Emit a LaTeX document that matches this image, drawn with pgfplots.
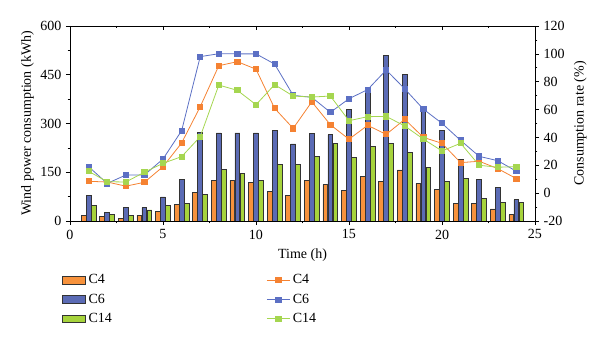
\documentclass[border=0pt]{standalone}
\usepackage{fontspec}
\setmainfont{Liberation Serif}
\usepackage{pgfplots}
\pgfplotsset{compat=1.18}
\definecolor{c4bar}{HTML}{F7923C}
\definecolor{c6bar}{HTML}{5B6BB5}
\definecolor{c14bar}{HTML}{A6D33C}
\definecolor{c4line}{HTML}{F58232}
\definecolor{c6line}{HTML}{5C70C4}
\definecolor{c14line}{HTML}{A5D650}
\begin{document}
\begin{tikzpicture}[font=\fontsize{10.5}{12.6}\selectfont]
\pgfplotsset{
  common/.style={
    scale only axis, width=348.75pt, height=146.25pt,
    xmin=0, xmax=25,
    /pgf/number format/assume math mode=true,
    major tick length=3pt, minor tick length=1.8pt,
    every tick/.style={black, line width=0.5pt},
    axis line style={line width=0.6pt},
  }
}
\begin{axis}[common, name=main,
  ymin=0, ymax=600,
  axis x line*=bottom, axis y line*=left,
  tick align=outside,
  xtick={0,5,10,15,20,25}, minor x tick num=1,
  ytick={0,150,300,450,600}, minor y tick num=1,
  xlabel={Time (h)}, ylabel={Wind power consumption (kWh)},
  ylabel style={xshift=0pt, yshift=-2pt},
  ybar, bar width=0.26,
  every axis plot/.append style={draw=black!80, line width=0.6pt},
]
\addplot[fill=c4bar, bar shift=-0.27] coordinates {
(1,18) (2,15) (3,8) (4,18) (5,28) (6,50) (7,87) (8,125) (9,125) (10,120) (11,91) (12,78)
(13,126) (14,112) (15,95) (16,136) (17,122) (18,157) (19,115) (20,97) (21,54) (22,54) (23,37) (24,19)};
\addplot[fill=c6bar, bar shift=0] coordinates {
(1,78) (2,27) (3,43) (4,41) (5,74) (6,127) (7,273) (8,271) (9,271) (10,271) (11,280) (12,237)
(13,270) (14,265) (15,344) (16,406) (17,509) (18,452) (19,346) (20,279) (21,190) (22,128) (23,104) (24,65)};
\addplot[fill=c14bar, bar shift=0.27] coordinates {
(1,47) (2,21) (3,18) (4,34) (5,47) (6,54) (7,83) (8,159) (9,147) (10,125) (11,175) (12,173)
(13,200) (14,238) (15,195) (16,229) (17,238) (18,211) (19,165) (20,123) (21,130) (22,69) (23,58) (24,56)};
\end{axis}
\begin{axis}[common,
  axis x line*=top, hide y axis,
  tick align=inside,
  xtick={0,5,10,15,20,25}, minor x tick num=1, xticklabels={},
  ymin=0, ymax=1,
]
\end{axis}
\begin{axis}[common,
  ymin=-20, ymax=120,
  axis y line*=right, axis x line=none,
  tick align=outside,
  ytick={-20,0,20,40,60,80,100,120}, minor y tick num=1,
  ylabel={Consumption rate (\%)},
  legend columns=2, legend cell align=left,
  legend style={at={(axis description cs:-0.017,-0.26)}, anchor=north west, draw=none, fill=none,
    inner xsep=0pt, inner ysep=0pt, row sep=2pt,
    /tikz/every even column/.append style={column sep=114pt}},
  every axis plot/.append style={line width=0.6pt, mark=square*, mark size=1.9pt},
]
\addlegendimage{area legend, fill=c4bar, draw=black!80, line width=0.6pt}
\addlegendentry{C4}
\addplot[color=c4line, mark options={fill=c4line}] coordinates {
(1,8.5) (2,8) (3,5) (4,7.8) (5,19) (6,36) (7,62) (8,91.5) (9,94.4) (10,89) (11,60.9) (12,46.5)
(13,65.6) (14,49.1) (15,38.7) (16,48.7) (17,42.2) (18,53) (19,40) (20,35.8) (21,21.9) (22,22.9) (23,17.6) (24,10.4)};
\addlegendentry{C4}
\addlegendimage{area legend, fill=c6bar, draw=black!80, line width=0.6pt}
\addlegendentry{C6}
\addplot[color=c6line, mark options={fill=c6line}] coordinates {
(1,19) (2,7) (3,13) (4,13) (5,24.5) (6,44.8) (7,98) (8,100.1) (9,100) (10,100) (11,92.7) (12,70.2)
(13,68.8) (14,58) (15,67.8) (16,74.3) (17,88.4) (18,74.8) (19,60.3) (20,50.1) (21,37.9) (22,26.4) (23,23.3) (24,15.7)};
\addlegendentry{C6}
\addlegendimage{area legend, fill=c14bar, draw=black!80, line width=0.6pt}
\addlegendentry{C14}
\addplot[color=c14line, mark options={fill=c14line}] coordinates {
(1,15.7) (2,8.2) (3,8) (4,15) (5,21.4) (6,26.2) (7,40.5) (8,77.6) (9,73.8) (10,63.5) (11,77.9) (12,69.7)
(13,69) (14,69.7) (15,52) (16,54.9) (17,55.1) (18,48.2) (19,38.8) (20,30.3) (21,35.8) (22,20) (23,18.6) (24,19)};
\addlegendentry{C14}
\end{axis}
\path ([xshift=-52.5pt,yshift=-93.75pt]main.south west) rectangle ([xshift=48.75pt,yshift=19.5pt]main.north east);
\end{tikzpicture}
\end{document}
